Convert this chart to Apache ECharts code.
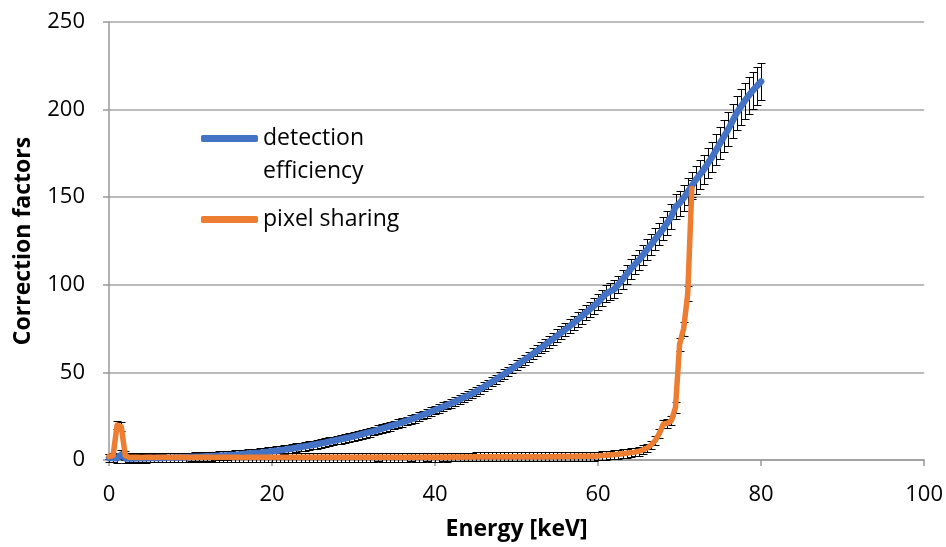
<!DOCTYPE html>
<html>
<head>
<meta charset="utf-8">
<script src="https://cdn.jsdelivr.net/npm/echarts@6/dist/echarts.min.js"></script>
<style>
  html, body { margin: 0; padding: 0; background: #ffffff; }
  #chart { width: 946px; height: 547px; }
</style>
</head>
<body>
<div id="chart"></div>
<script>
// energy grid [keV]
const energy = [
  0, 0.5, 1, 1.5, 2, 2.5, 3, 3.5, 4, 4.5,
  5, 5.5, 6, 6.5, 7, 7.5, 8, 8.5, 9, 9.5,
  10, 10.5, 11, 11.5, 12, 12.5, 13, 13.5, 14, 14.5,
  15, 15.5, 16, 16.5, 17, 17.5, 18, 18.5, 19, 19.5,
  20, 20.5, 21, 21.5, 22, 22.5, 23, 23.5, 24, 24.5,
  25, 25.5, 26, 26.5, 27, 27.5, 28, 28.5, 29, 29.5,
  30, 30.5, 31, 31.5, 32, 32.5, 33, 33.5, 34, 34.5,
  35, 35.5, 36, 36.5, 37, 37.5, 38, 38.5, 39, 39.5,
  40, 40.5, 41, 41.5, 42, 42.5, 43, 43.5, 44, 44.5,
  45, 45.5, 46, 46.5, 47, 47.5, 48, 48.5, 49, 49.5,
  50, 50.5, 51, 51.5, 52, 52.5, 53, 53.5, 54, 54.5,
  55, 55.5, 56, 56.5, 57, 57.5, 58, 58.5, 59, 59.5,
  60, 60.5, 61, 61.5, 62, 62.5, 63, 63.5, 64, 64.5,
  65, 65.5, 66, 66.5, 67, 67.5, 68, 68.5, 69, 69.5,
  70, 70.5, 71, 71.5, 72, 72.5, 73, 73.5, 74, 74.5,
  75, 75.5, 76, 76.5, 77, 77.5, 78, 78.5, 79, 79.5,
  80
]

// detection efficiency
const efficiency = [
  1.2, 1.1, 1.0, 3.0, 0.9, 0.9, 0.9, 1.0, 1.0, 1.0,
  1.1, 1.1, 1.2, 1.2, 1.3, 1.3, 1.4, 1.4, 1.5, 1.6,
  1.7, 1.8, 1.9, 2.0, 2.1, 2.2, 2.3, 2.5, 2.6, 2.7,
  2.9, 3.0, 3.2, 3.4, 3.6, 3.8, 4.0, 4.2, 4.5, 4.7,
  5.0, 5.3, 5.6, 5.9, 6.3, 6.6, 7.0, 7.4, 7.8, 8.2,
  8.6, 9.0, 9.5, 9.9, 10.4, 10.9, 11.4, 11.9, 12.4, 12.9,
  13.5, 14.1, 14.7, 15.3, 15.9, 16.5, 17.2, 17.9, 18.6, 19.3,
  20.0, 20.7, 21.5, 22.3, 23.1, 23.9, 24.8, 25.7, 26.6, 27.5,
  28.5, 29.4, 30.4, 31.4, 32.4, 33.4, 34.5, 35.6, 36.7, 37.8,
  39.0, 40.4, 41.8, 43.2, 44.6, 46.1, 47.6, 49.1, 50.7, 52.3,
  54.0, 55.6, 57.3, 58.9, 60.6, 62.3, 64.0, 65.7, 67.5, 69.2,
  71.0, 72.7, 74.5, 76.3, 78.2, 80.1, 82.0, 84.0, 86.0, 88.0,
  90.0, 92.6, 95.0, 96.3, 97.5, 100.2, 103.0, 106.0, 109.0, 111.5,
  114.0, 117.0, 120.0, 123.0, 126.0, 129.0, 132.0, 135.5, 139.0, 144.5,
  146.5, 149.5, 153.0, 156.5, 160.0, 163.0, 166.0, 169.5, 173.0, 177.0,
  181.0, 185.0, 189.0, 193.5, 198.0, 201.5, 205.0, 208.0, 211.0, 213.5,
  216.0
]
const efficiencyErr = [
  2.5, 2.5, 2.5, 2.5, 2.5, 2.5, 2.5, 2.5, 2.5, 2.5,
  2.5, 2.5, 2.5, 2.5, 2.5, 2.5, 2.5, 2.5, 2.5, 2.5,
  2.5, 2.5, 2.5, 2.5, 2.5, 2.5, 2.5, 2.5, 2.5, 2.5,
  2.5, 2.5, 2.5, 2.5, 2.5, 2.5, 2.5, 2.5, 2.5, 2.5,
  2.5, 2.5, 2.5, 2.5, 2.5, 2.5, 2.5, 2.5, 2.5, 2.5,
  2.5, 2.5, 2.5, 2.5, 2.5, 2.5, 2.5, 2.5, 2.5, 2.5,
  2.5, 2.5, 2.5, 2.5, 2.5, 2.5, 2.5, 2.5, 2.5, 2.5,
  2.5, 2.5, 2.5, 2.5, 2.5, 2.5, 2.5, 2.5, 2.5, 2.5,
  2.5, 2.5, 2.5, 2.5, 2.5, 2.5, 2.5, 2.5, 2.5, 2.5,
  2.5, 2.5, 2.5, 2.5, 2.5, 2.5, 2.6, 2.6, 2.6, 2.7,
  2.8, 2.8, 2.9, 3.0, 3.1, 3.1, 3.2, 3.3, 3.4, 3.5,
  3.6, 3.7, 3.8, 3.9, 4.0, 4.1, 4.2, 4.3, 4.4, 4.5,
  4.6, 4.7, 4.8, 4.9, 5.0, 5.1, 5.3, 5.4, 5.5, 5.6,
  5.8, 5.9, 6.0, 6.2, 6.3, 6.5, 6.6, 6.8, 7.0, 7.2,
  7.3, 7.5, 7.7, 7.8, 8.0, 8.2, 8.3, 8.5, 8.7, 8.9,
  9.1, 9.3, 9.5, 9.7, 9.9, 10.1, 10.3, 10.4, 10.6, 10.7,
  10.8
]

// pixel sharing (stops at 71.5 keV)
const sharing = [
  2.0, 2.5, 20.0, 19.0, 2.5, 1.6, 1.5, 1.5, 1.4, 1.5,
  1.5, 1.4, 1.5, 1.5, 1.5, 1.4, 1.5, 1.5, 1.5, 1.5,
  1.4, 1.5, 1.5, 1.5, 1.5, 1.5, 1.4, 1.5, 1.5, 1.5,
  1.5, 1.5, 1.5, 1.4, 1.5, 1.5, 1.5, 1.5, 1.5, 1.5,
  1.5, 1.5, 1.5, 1.5, 1.6, 1.5, 1.5, 1.5, 1.5, 1.5,
  1.5, 1.5, 1.5, 1.6, 1.5, 1.5, 1.5, 1.5, 1.6, 1.5,
  1.6, 1.6, 1.6, 1.6, 1.6, 1.6, 1.7, 1.6, 1.6, 1.6,
  1.6, 1.6, 1.6, 1.6, 1.7, 1.6, 1.6, 1.6, 1.7, 1.6,
  1.6, 1.6, 1.7, 1.6, 1.7, 1.7, 1.7, 1.7, 1.7, 1.7,
  1.8, 1.8, 1.8, 1.8, 1.8, 1.8, 1.8, 1.8, 1.8, 1.8,
  1.8, 1.8, 1.9, 1.9, 1.9, 1.9, 1.9, 1.9, 1.9, 1.9,
  2.0, 2.0, 2.0, 2.0, 2.0, 2.1, 2.1, 2.1, 2.2, 2.2,
  2.3, 2.5, 2.7, 2.9, 3.1, 3.3, 3.6, 3.9, 4.2, 4.5,
  5.0, 5.8, 6.8, 8.5, 11.0, 15.0, 20.5, 21.0, 22.5, 30.0,
  66.0, 75.0, 95.0, 155.0
]
const sharingErr = [
  1.5, 1.5, 2.5, 2.5, 2.5, 2.5, 2.5, 2.5, 2.5, 2.5,
  2.5, 2.5, 2.5, 2.5, 2.5, 2.5, 2.5, 2.5, 2.5, 2.5,
  2.5, 2.5, 2.5, 2.5, 2.5, 2.5, 2.5, 2.5, 2.5, 2.5,
  2.5, 2.5, 2.5, 2.5, 2.5, 2.5, 2.5, 2.5, 2.5, 2.5,
  2.5, 2.5, 2.5, 2.5, 2.5, 2.5, 2.5, 2.5, 2.5, 2.5,
  2.5, 2.5, 2.5, 2.5, 2.5, 2.5, 2.5, 2.5, 2.5, 2.5,
  2.5, 2.5, 2.5, 2.5, 2.5, 2.5, 2.5, 2.5, 2.5, 2.5,
  2.5, 2.5, 2.5, 2.5, 2.5, 2.5, 2.5, 2.5, 2.5, 2.5,
  2.5, 2.5, 2.5, 2.5, 2.5, 2.5, 2.5, 2.5, 2.5, 2.5,
  2.5, 2.5, 2.5, 2.5, 2.5, 2.5, 2.5, 2.5, 2.5, 2.5,
  2.5, 2.5, 2.5, 2.5, 2.5, 2.5, 2.5, 2.5, 2.5, 2.5,
  2.5, 2.5, 2.5, 2.5, 2.5, 2.5, 2.5, 2.5, 2.5, 2.5,
  2.5, 2.5, 2.5, 2.5, 2.5, 2.5, 2.5, 2.5, 2.5, 2.5,
  2.5, 2.5, 2.5, 2.5, 2.5, 2.5, 2.5, 2.5, 2.5, 3.0,
  3.5, 4.0, 4.5, 5.0
]

// axis ticks
const xTicks = [0, 20, 40, 60, 80, 100]
const yTicks = [0, 50, 100, 150, 200, 250]

const BLUE = '#4472c4'
const ORANGE = '#ed7d31'
const FONT = '"Open Sans", "Noto Sans", sans-serif'

const chart = echarts.init(document.getElementById('chart'))

// error bar: vertical line with small caps, snapped to pixels so it stays black
function errorBar(params, api) {
  const x = api.value(0)
  const lo = api.coord([x, api.value(1)])
  const hi = api.coord([x, api.value(2)])
  const cx = Math.round(lo[0]) + 0.5
  const y1 = Math.round(lo[1]) + 0.5
  const y2 = Math.round(hi[1]) + 0.5
  const cap = 4
  const style = { stroke: '#000000', lineWidth: 1 }
  return {
    type: 'group',
    children: [
      { type: 'line', shape: { x1: cx, y1: y1, x2: cx, y2: y2 }, style },
      { type: 'line', shape: { x1: cx - cap, y1: y1, x2: cx + cap, y2: y1 }, style },
      { type: 'line', shape: { x1: cx - cap, y1: y2, x2: cx + cap, y2: y2 }, style }
    ]
  }
}

const effLine = energy.map((e, i) => [e, efficiency[i]])
const effBars = energy.map((e, i) => [e, efficiency[i] - efficiencyErr[i], efficiency[i] + efficiencyErr[i]])
const shareLine = sharing.map((v, i) => [energy[i], v])
const shareBars = sharing.map((v, i) => [energy[i], v - sharingErr[i], v + sharingErr[i]])

const option = {
  animation: false,
  backgroundColor: '#ffffff',
  grid: {
    left: 109,
    right: 21,
    top: 22,
    bottom: 87,
    containLabel: false
  },
  legend: {
    orient: 'vertical',
    left: 201,
    top: 89,
    padding: 0,
    itemGap: 25,
    itemWidth: 57,
    itemHeight: 7,
    icon: 'roundRect',
    data: ['detection efficiency', 'pixel sharing'],
    formatter: function(name) {
      return name === 'detection efficiency' ? '{b|}\n{a|detection}\n{a|efficiency}' : '{a|' + name + '}'
    },
    textStyle: {
      fontFamily: FONT,
      fontSize: 23,
      color: '#000000',
      rich: {
        a: { fontFamily: FONT, fontSize: 23, color: '#000000', lineHeight: 33 },
        b: { lineHeight: 33, height: 33 }
      }
    }
  },
  xAxis: {
    type: 'value',
    min: xTicks[0],
    max: xTicks[xTicks.length - 1],
    interval: 20,
    name: 'Energy [keV]',
    nameLocation: 'middle',
    nameGap: 58,
    nameTextStyle: {
      fontFamily: FONT,
      fontWeight: 'bold',
      fontSize: 23,
      color: '#000000'
    },
    axisLine: { show: true, onZero: false, lineStyle: { color: '#999999', width: 1.5 } },
    axisTick: { show: true, length: 6, lineStyle: { color: '#999999', width: 1.5 } },
    axisLabel: { margin: 24, fontFamily: FONT, fontSize: 22, color: '#000000' },
    splitLine: { show: false }
  },
  yAxis: {
    type: 'value',
    min: yTicks[0],
    max: yTicks[yTicks.length - 1],
    interval: 50,
    name: 'Correction factors',
    nameLocation: 'middle',
    nameRotate: 90,
    nameGap: 74,
    nameTextStyle: {
      fontFamily: FONT,
      fontWeight: 'bold',
      fontSize: 23,
      color: '#000000'
    },
    axisLine: { show: true, lineStyle: { color: '#999999', width: 1.5 } },
    axisTick: { show: true, length: 6, lineStyle: { color: '#999999', width: 1.5 } },
    axisLabel: { margin: 24, fontFamily: FONT, fontSize: 22, color: '#000000' },
    splitLine: { show: true, lineStyle: { color: '#a6a6a6', width: 1.5 } }
  },
  series: [
    {
      name: 'efficiency error',
      type: 'custom',
      renderItem: errorBar,
      encode: { x: 0, y: [1, 2] },
      data: effBars,
      z: 1,
      silent: true
    },
    {
      name: 'sharing error',
      type: 'custom',
      renderItem: errorBar,
      encode: { x: 0, y: [1, 2] },
      data: shareBars,
      z: 1,
      silent: true
    },
    {
      name: 'detection efficiency',
      type: 'line',
      data: effLine,
      showSymbol: false,
      symbol: 'none',
      color: BLUE,
      lineStyle: { color: BLUE, width: 6.5, cap: 'round', join: 'round' },
      z: 2
    },
    {
      name: 'pixel sharing',
      type: 'line',
      data: shareLine,
      showSymbol: false,
      symbol: 'none',
      color: ORANGE,
      lineStyle: { color: ORANGE, width: 5.5, cap: 'round', join: 'round' },
      z: 3
    }
  ]
}

chart.setOption(option)
window.addEventListener('resize', function() {
  chart.resize()
})
</script>
</body>
</html>
